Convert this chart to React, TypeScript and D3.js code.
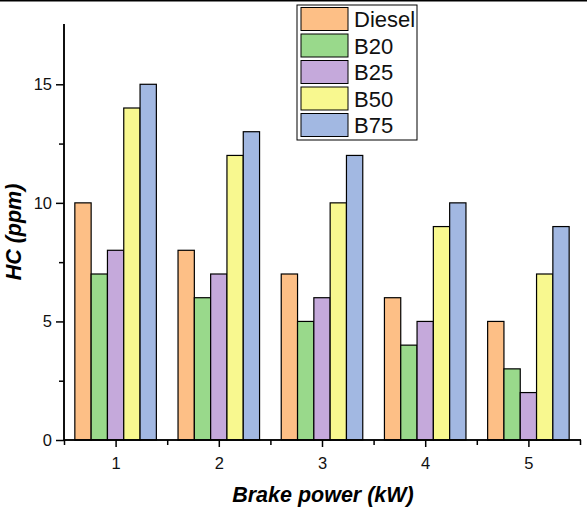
import { useEffect, useRef } from 'react'
import * as d3 from 'd3'

const categories = [1, 2, 3, 4, 5]
const seriesNames = ['Diesel', 'B20', 'B25', 'B50', 'B75']
const diesel = [10, 8, 7, 6, 5]
const b20 = [7, 6, 5, 4, 3]
const b25 = [8, 7, 6, 5, 2]
const b50 = [14, 12, 10, 9, 7]
const b75 = [15, 13, 12, 10, 9]
const yTicks = [0, 5, 10, 15]
const colors = ['#FDBF86', '#99D98B', '#C5A9DB', '#F8F88F', '#A2B8E2']

export default function App() {
  const ref = useRef<SVGSVGElement | null>(null)
  const W = 587
  const H = 513

  useEffect(() => {
    document.body.style.margin = '0'
    const svg = d3.select(ref.current)
    svg.selectAll('*').remove()

    const values = [diesel, b20, b25, b50, b75]
    const left = 64
    const right = 580
    const top = 25
    const bottom = 440
    const font = 'Arial, Liberation Sans, sans-serif'

    const x = d3.scaleLinear().domain([0.5, 5.5]).range([left, right])
    const y = d3.scaleLinear().domain([0, 17.5]).range([bottom, top])
    const step = x(2) - x(1)
    const groupW = step * 0.79
    const inner = d3.scaleBand<number>().domain(d3.range(5)).range([0, groupW])

    // top border
    svg.append('line').attr('x1', 0).attr('x2', W).attr('y1', 0.75).attr('y2', 0.75)
      .attr('stroke', '#000').attr('stroke-width', 1.5)

    // bars
    values.forEach((vals, si) => {
      svg.append('g').selectAll('rect').data(vals).enter().append('rect')
        .attr('x', (d, i) => x(categories[i]) - groupW / 2 + inner(si)!)
        .attr('y', (d) => y(d))
        .attr('width', inner.bandwidth())
        .attr('height', (d) => bottom - y(d))
        .attr('fill', colors[si])
        .attr('stroke', '#000')
        .attr('stroke-width', 1.2)
    })

    // y axis
    const yAxis = svg.append('g').attr('transform', `translate(${left},0)`)
      .call(d3.axisLeft(y).tickValues(yTicks).tickSize(8).tickPadding(4).tickFormat(d3.format('d')))
    yAxis.append('g').call(d3.axisLeft(y).tickValues([2.5, 7.5, 12.5]).tickSize(5).tickFormat(() => ''))
    yAxis.selectAll('.domain').attr('stroke-width', 1.5).attr('d', `M0,${top - 1}V${bottom}`)
    yAxis.selectAll('line').attr('stroke-width', 1.5)
    yAxis.selectAll('text').attr('font-size', 16.5).attr('font-family', font).attr('fill', '#111')

    // x axis
    const xAxis = svg.append('g').attr('transform', `translate(0,${bottom})`)
      .call(d3.axisBottom(x).tickValues(categories).tickSize(7).tickPadding(10).tickFormat(d3.format('d')))
    xAxis.append('g').call(d3.axisBottom(x).tickValues([0.5, 1.5, 2.5, 3.5, 4.5, 5.5]).tickSize(5).tickFormat(() => ''))
    xAxis.selectAll('.domain').attr('stroke-width', 1.5).attr('d', `M${left},0H${right + 1}`)
    xAxis.selectAll('line').attr('stroke-width', 1.5)
    xAxis.selectAll('text').attr('font-size', 16.5).attr('font-family', font).attr('fill', '#111')

    // axis titles
    svg.append('text')
      .attr('transform', `translate(21,232) rotate(-90)`)
      .attr('text-anchor', 'middle')
      .attr('font-family', font)
      .attr('font-weight', 'bold').attr('font-style', 'italic').attr('font-size', 21.5)
      .text('HC (ppm)')
    svg.append('text')
      .attr('x', 323).attr('y', 502)
      .attr('text-anchor', 'middle')
      .attr('font-family', font)
      .attr('font-weight', 'bold').attr('font-style', 'italic').attr('font-size', 21.5)
      .text('Brake power (kW)')

    // legend
    const lg = svg.append('g').attr('transform', 'translate(297,5)')
    lg.append('rect').attr('width', 120).attr('height', 135).attr('fill', '#fff')
      .attr('stroke', '#000').attr('stroke-width', 1)
    seriesNames.forEach((name, i) => {
      lg.append('rect').attr('x', 4).attr('y', 2.5 + i * 26.5).attr('width', 47).attr('height', 23)
        .attr('fill', colors[i]).attr('stroke', '#000').attr('stroke-width', 1)
      lg.append('text').attr('x', 57).attr('y', 22 + i * 26.5)
        .attr('font-family', font).attr('font-size', 22)
        .attr('fill', '#111')
        .text(name)
    })
  }, [])

  return <svg width={W} height={H} ref={ref} style={{ display: 'block', background: '#fff' }} />
}
